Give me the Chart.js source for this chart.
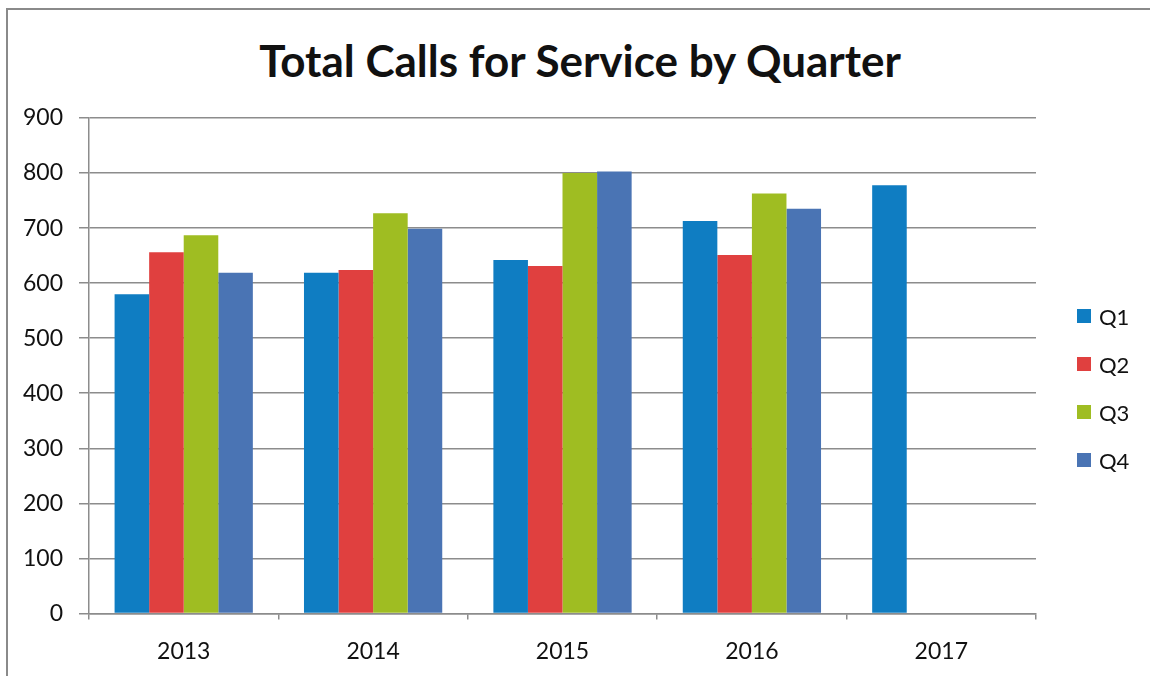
<!DOCTYPE html>
<html>
<head>
<meta charset="utf-8">
<script src="https://cdn.jsdelivr.net/npm/chart.js@4/dist/chart.umd.min.js"></script>
<style>
  html, body { margin: 0; padding: 0; background: #fff; }
  body { width: 1150px; height: 676px; position: relative; overflow: hidden; }
  #frame {
    position: absolute; left: 6px; top: 8px; width: 1160px; height: 700px;
    border-left: 2px solid #8a8a8a; border-top: 2px solid #8a8a8a;
  }
  #wrap { position: absolute; left: 0; top: 0; width: 1150px; height: 691px; }
  #title {
    position: absolute; left: 0; width: 1160px; top: 32px; text-align: center;
    font-family: Lato, 'Open Sans', sans-serif; font-size: 44px; font-weight: bold;
    color: #111; line-height: 56px;
  }
  #legend {
    position: absolute; left: 1077px; top: 292px;
    font-family: Lato, 'Open Sans', sans-serif; font-size: 22px; color: #111;
  }
  #legend .item { display: flex; align-items: center; height: 48px; }
  #legend .swatch { width: 14px; height: 14px; margin-right: 8px; }
</style>
</head>
<body>
<div id="frame"></div>
<div id="title">Total Calls for Service by Quarter</div>
<div id="wrap"><canvas id="callsChart"></canvas></div>
<div id="legend"></div>
<script>
// Calls for service per quarter, by year
const years = ['2013', '2014', '2015', '2016', '2017']
const quarters = ['Q1', 'Q2', 'Q3', 'Q4']
const q1Calls = [580, 619, 642, 713, 778]
const q2Calls = [656, 624, 631, 651, null]
const q3Calls = [687, 727, 800, 763, null]
const q4Calls = [619, 699, 803, 735, null]
const yTicks = [0, 100, 200, 300, 400, 500, 600, 700, 800, 900]

const quarterColors = ['#0f7dc2', '#e0403f', '#9fbd22', '#4a74b4']
const seriesData = [q1Calls, q2Calls, q3Calls, q4Calls]

const fontFamily = "Lato, 'Open Sans', sans-serif"

const ctx = document.getElementById('callsChart').getContext('2d')
new Chart(ctx, {
  type: 'bar',
  data: {
    labels: years,
    datasets: quarters.map((q, i) => ({
      label: q,
      data: seriesData[i],
      backgroundColor: quarterColors[i],
      borderWidth: 0,
      barPercentage: 1,
      categoryPercentage: 0.73
    }))
  },
  options: {
    responsive: true,
    maintainAspectRatio: false,
    animation: false,
    layout: {
      padding: { top: 118, right: 114, bottom: 8, left: 7 }
    },
    plugins: {
      legend: { display: false },
      tooltip: { enabled: false },
      title: { display: false }
    },
    scales: {
      x: {
        grid: {
          offset: true,
          drawOnChartArea: false,
          drawTicks: true,
          tickLength: 6,
          color: '#8c8c8c',
          lineWidth: 1.5
        },
        border: { display: true, color: '#8c8c8c', width: 1.5 },
        ticks: {
          color: '#111',
          padding: 18,
          font: { family: fontFamily, size: 23 }
        }
      },
      y: {
        min: 0,
        max: 900,
        afterBuildTicks: (axis) => {
          axis.ticks = yTicks.map((v) => ({ value: v }))
        },
        grid: {
          color: '#8c8c8c',
          lineWidth: 1.5,
          tickLength: 10
        },
        border: { display: true, color: '#8c8c8c', width: 1.5 },
        ticks: {
          color: '#111',
          padding: 16,
          font: { family: fontFamily, size: 23 }
        }
      }
    }
  }
})

// legend on the right, built from the same series names and colours
const legendEl = document.getElementById('legend')
quarters.forEach((q, i) => {
  const item = document.createElement('div')
  item.className = 'item'
  const sw = document.createElement('span')
  sw.className = 'swatch'
  sw.style.background = quarterColors[i]
  const txt = document.createElement('span')
  txt.textContent = q
  item.appendChild(sw)
  item.appendChild(txt)
  legendEl.appendChild(item)
})
</script>
</body>
</html>
